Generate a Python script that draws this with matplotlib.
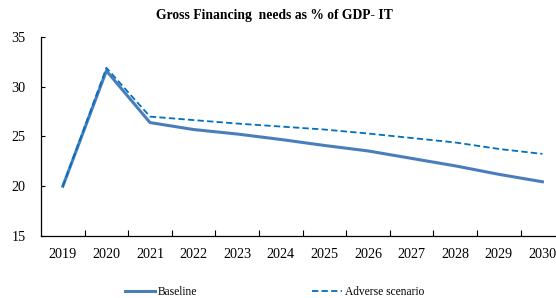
import matplotlib
matplotlib.use("Agg")
import matplotlib.pyplot as plt
import numpy as np

years = ["2019", "2020", "2021", "2022", "2023", "2024", "2025", "2026", "2027", "2028", "2029", "2030"]
baseline = [20.0, 31.6, 26.4, 25.7, 25.25, 24.7, 24.1, 23.55, 22.8, 22.05, 21.2, 20.45]
adverse = [20.0, 31.9, 27.0, 26.65, 26.3, 26.0, 25.7, 25.3, 24.85, 24.4, 23.75, 23.25]

plt.rcParams['font.family'] = ['Liberation Serif', 'DejaVu Serif']

fig = plt.figure(figsize=(5.56, 2.98), dpi=100)
ax = fig.add_axes([41/556, 1-236/298, 12*43.6/556, 199/298])
x = np.arange(len(years))
ax.plot(x, baseline, color='#4a7ebb', lw=2.2, label='Baseline')
ax.plot(x, adverse, color='#0070c0', lw=1.3, ls=(0, (3.5, 1.8)), label='Adverse scenario')

ax.set_xlim(-0.5, len(years)-0.5)
ax.set_ylim(15, 35)
ax.set_yticks([15, 20, 25, 30, 35])
ax.set_xticks(x)
ax.set_xticklabels(years, fontsize=10.2)
ax.tick_params(axis='x', which='major', length=0, pad=9)
ax.set_xticks(np.arange(0.5, len(years)-0.5, 1), minor=True)
ax.tick_params(axis='x', which='minor', direction='in', length=4, width=0.8)
ax.tick_params(axis='y', direction='in', length=3, width=0.8, labelsize=10.2, pad=11)
for s in ['top', 'right']:
    ax.spines[s].set_visible(False)
for s in ['left', 'bottom']:
    ax.spines[s].set_linewidth(0.9)

fig.text(0.494, 1-15/298, 'Gross Financing  needs as % of GDP- IT', ha='center', va='center',
         fontsize=9.8, fontweight='bold')

leg = fig.legend(loc='center', bbox_to_anchor=(0.494, 1-292/298), ncol=2, frameon=False,
                 fontsize=8.3, columnspacing=10, handlelength=2.6, handletextpad=0.25)

fig.savefig('out.png', dpi=100)
